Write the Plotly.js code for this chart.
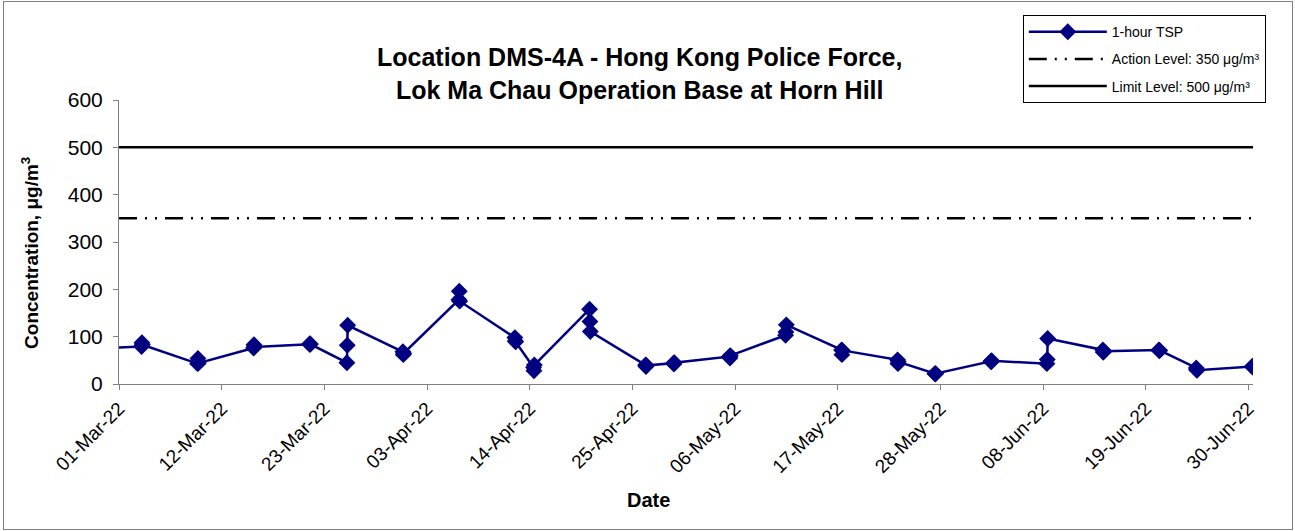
<!DOCTYPE html>
<html><head><meta charset="utf-8">
<script src="https://cdn.plot.ly/plotly-3.0.1.min.js"></script>
<style>
body{margin:0;background:#fff;}
#chart{width:1295px;height:531px;}
#frame{position:absolute;left:3px;top:1px;width:1288px;height:527px;border:1px solid #7f7f7f;pointer-events:none;}
</style>
</head><body><div id="chart"></div><div id="frame"></div>
<script>
// Sampling dates (3 one-hour samples per date)
const sampleDates = ['2022-02-25','2022-03-03','2022-03-09','2022-03-15','2022-03-21','2022-03-25','2022-03-31',
  '2022-04-06','2022-04-12','2022-04-14','2022-04-20','2022-04-26','2022-04-29','2022-05-05','2022-05-11',
  '2022-05-17','2022-05-23','2022-05-27','2022-06-02','2022-06-08','2022-06-14','2022-06-20','2022-06-24','2022-06-30'];
const sampleTimes = ['10:00','11:00','12:00'];
const tspHour1 = [70, 79, 43, 76, 84, 45, 68, 178, 98, 35, 158, 40, 44, 58, 103, 72, 51, 22, 48, 43, 72, 72, 34, 37];
const tspHour2 = [78, 87, 54, 83, 85, 82, 62, 196, 91, 28, 132, 37, 42, 55, 110, 62, 43, 21, 47, 52, 67, 70, 30, 36];
const tspHour3 = [75, 83, 44, 78, 84, 124, 65, 175, 89, 40, 111, 39, 45, 60, 125, 71, 47, 22, 49, 96, 69, 71, 29, 38];
const actionLevel = 350;
const limitLevel = 500;
const axisStart = '2022-03-01 00:00';
const axisEnd = '2022-06-30 12:00';
const yTicks = [0, 100, 200, 300, 400, 500, 600];

const xs = [], ys = [];
const hourly = [tspHour1, tspHour2, tspHour3];
sampleDates.forEach((d, i) => {
  sampleTimes.forEach((t, k) => { xs.push(d + ' ' + t); ys.push(hourly[k][i]); });
});

const font = 'Liberation Sans, Arial, sans-serif';
const traces = [
  {x: xs, y: ys, type: 'scatter', mode: 'lines+markers', name: '1-hour TSP',
   line: {color: '#000080', width: 2.5}, marker: {symbol: 'diamond', size: 13, color: '#000080'},
   cliponaxis: true, legendgroup: 'a'},
  {x: [axisStart, axisEnd], y: [actionLevel, actionLevel], type: 'scatter', mode: 'lines',
   name: 'Action Level: 350 μg/m³', line: {color: '#000000', width: 2.5, dash: '18px,8px,2px,8px,2px,8px'}, legendgroup: 'b'},
  {x: [axisStart, axisEnd], y: [limitLevel, limitLevel], type: 'scatter', mode: 'lines',
   name: 'Limit Level: 500 μg/m³', line: {color: '#000000', width: 2.5}, legendgroup: 'c'}
];

const layout = {
  width: 1295, height: 531,
  margin: {l: 119, r: 42, t: 100, b: 147},
  paper_bgcolor: '#ffffff', plot_bgcolor: '#ffffff',
  font: {family: font, color: '#000000'},
  showlegend: true,
  title: {text: '<b>Location DMS-4A - Hong Kong Police Force,<br>Lok Ma Chau Operation Base at Horn Hill</b>',
    font: {family: font, size: 25, color: '#000'}, x: 0.494, xanchor: 'center', y: 0.875, yanchor: 'top'},
  xaxis: {type: 'date', range: [axisStart, axisEnd], tickmode: 'linear', tick0: '2022-03-01', dtick: 11 * 86400000,
    tickformat: '%d-%b-%y', tickangle: -45, ticks: 'outside', ticklen: 5, tickcolor: '#808080',
    showline: true, linecolor: '#808080', linewidth: 1, showgrid: false, zeroline: false,
    tickfont: {family: font, size: 19, color: '#000'}},
  yaxis: {range: [0, 600], tickmode: 'array', tickvals: yTicks, ticks: 'outside', ticklen: 5, tickcolor: '#808080',
    showline: true, linecolor: '#808080', linewidth: 1, showgrid: false, zeroline: false,
    ticklabelstandoff: 6,
    tickfont: {family: font, size: 21, color: '#000'}},
  annotations: [
    {text: '<b>Date</b>', xref: 'paper', yref: 'paper', x: 0.467, y: -0.408, xanchor: 'center', yanchor: 'middle',
     showarrow: false, font: {family: font, size: 20, color: '#000'}},
    {text: '<b>Concentration, μg/m<sup>3</sup></b>', xref: 'paper', yref: 'paper', x: -0.078, y: 0.46,
     xanchor: 'center', yanchor: 'middle', textangle: -90, showarrow: false, font: {family: font, size: 19, color: '#000'}}
  ],
  legend: {x: 0.797, y: 1.299, xanchor: 'left', yanchor: 'top', bgcolor: '#ffffff', bordercolor: '#000000', borderwidth: 1,
    font: {family: font, size: 14, color: '#000'}, traceorder: 'grouped', tracegroupgap: 6, itemwidth: 78}
};

Plotly.newPlot('chart', traces, layout, {displayModeBar: false, staticPlot: true});
</script>
</body></html>
